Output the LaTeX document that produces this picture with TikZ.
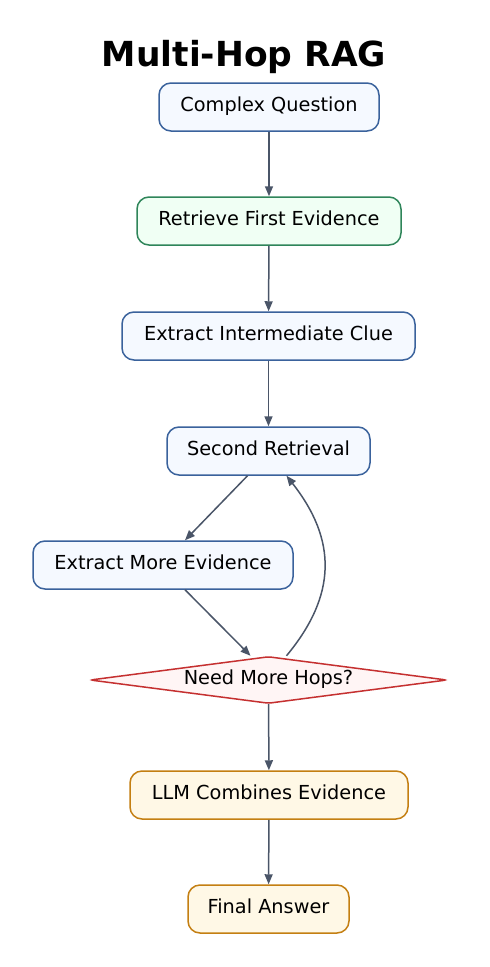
\documentclass[tikz,border=0pt]{standalone}
\usepackage{fontspec}
\setmainfont{DejaVu Sans}
\usetikzlibrary{shapes.geometric,arrows.meta}
\definecolor{bluefill}{HTML}{F5F9FF}
\definecolor{blueline}{HTML}{3A629C}
\definecolor{greenfill}{HTML}{F0FFF4}
\definecolor{greenline}{HTML}{2F855A}
\definecolor{redfill}{HTML}{FFF5F5}
\definecolor{redline}{HTML}{C53030}
\definecolor{orangefill}{HTML}{FFF8E6}
\definecolor{orangeline}{HTML}{C47F12}
\definecolor{edgecol}{HTML}{4A5568}
\tikzset{
  box/.style={draw, rounded corners=12pt, line width=1.5pt, minimum height=48pt,
    inner sep=0pt, font=\fontsize{19.3}{22}\selectfont, text height=0.9em, text depth=0.08em},
  bluebox/.style={box, draw=blueline, fill=bluefill},
  greenbox/.style={box, draw=greenline, fill=greenfill},
  orangebox/.style={box, draw=orangeline, fill=orangefill},
  decision/.style={diamond, draw=redline, fill=redfill, line width=1.5pt, aspect=7.6,
    minimum width=357pt, minimum height=47pt, inner sep=0pt, rounded corners=3pt,
    font=\fontsize{19.3}{22}\selectfont, text height=0.9em, text depth=0.08em},
  conn/.style={draw=edgecol, line width=1.5pt, -{Triangle[length=10pt,width=8pt]}}
}
\begin{document}
\begin{tikzpicture}[x=1pt,y=-1pt]
\useasboundingbox[fill=white] (0,0) rectangle (490,967);
\node[font=\bfseries\fontsize{34.5}{38}\selectfont] (title) at (244,56.5) {Multi-Hop RAG};
\node[bluebox, minimum width=220pt] (cq) at (269,107) {Complex Question};
\node[greenbox, minimum width=264pt] (rfe) at (269,221) {Retrieve First Evidence};
\node[bluebox, minimum width=293pt] (eic) at (268.5,336) {Extract Intermediate Clue};
\node[bluebox, minimum width=203pt] (sr) at (268.5,451) {Second Retrieval};
\node[bluebox, minimum width=260pt] (eme) at (163,565) {Extract More Evidence};
\node[decision] (dec) at (268.5,680) {Need More Hops?};
\node[orangebox, minimum width=278pt] (llm) at (269,795) {LLM Combines Evidence};
\node[orangebox, minimum width=161pt] (fa) at (268.5,909) {Final Answer};
\draw[conn] (cq) -- (rfe);
\draw[conn] (rfe) -- (eic);
\draw[conn] (eic) -- (sr);
\draw[conn] ([xshift=-21pt]sr.south) -- ([xshift=22pt]eme.north);
\draw[conn] ([xshift=22pt]eme.south) -- ([xshift=-18pt]dec.north);
\draw[conn] ([xshift=18pt]dec.north) .. controls (337,595) and (337,540) .. ([xshift=18pt]sr.south);
\draw[conn] (dec) -- (llm);
\draw[conn] (llm) -- (fa);
\end{tikzpicture}
\end{document}
